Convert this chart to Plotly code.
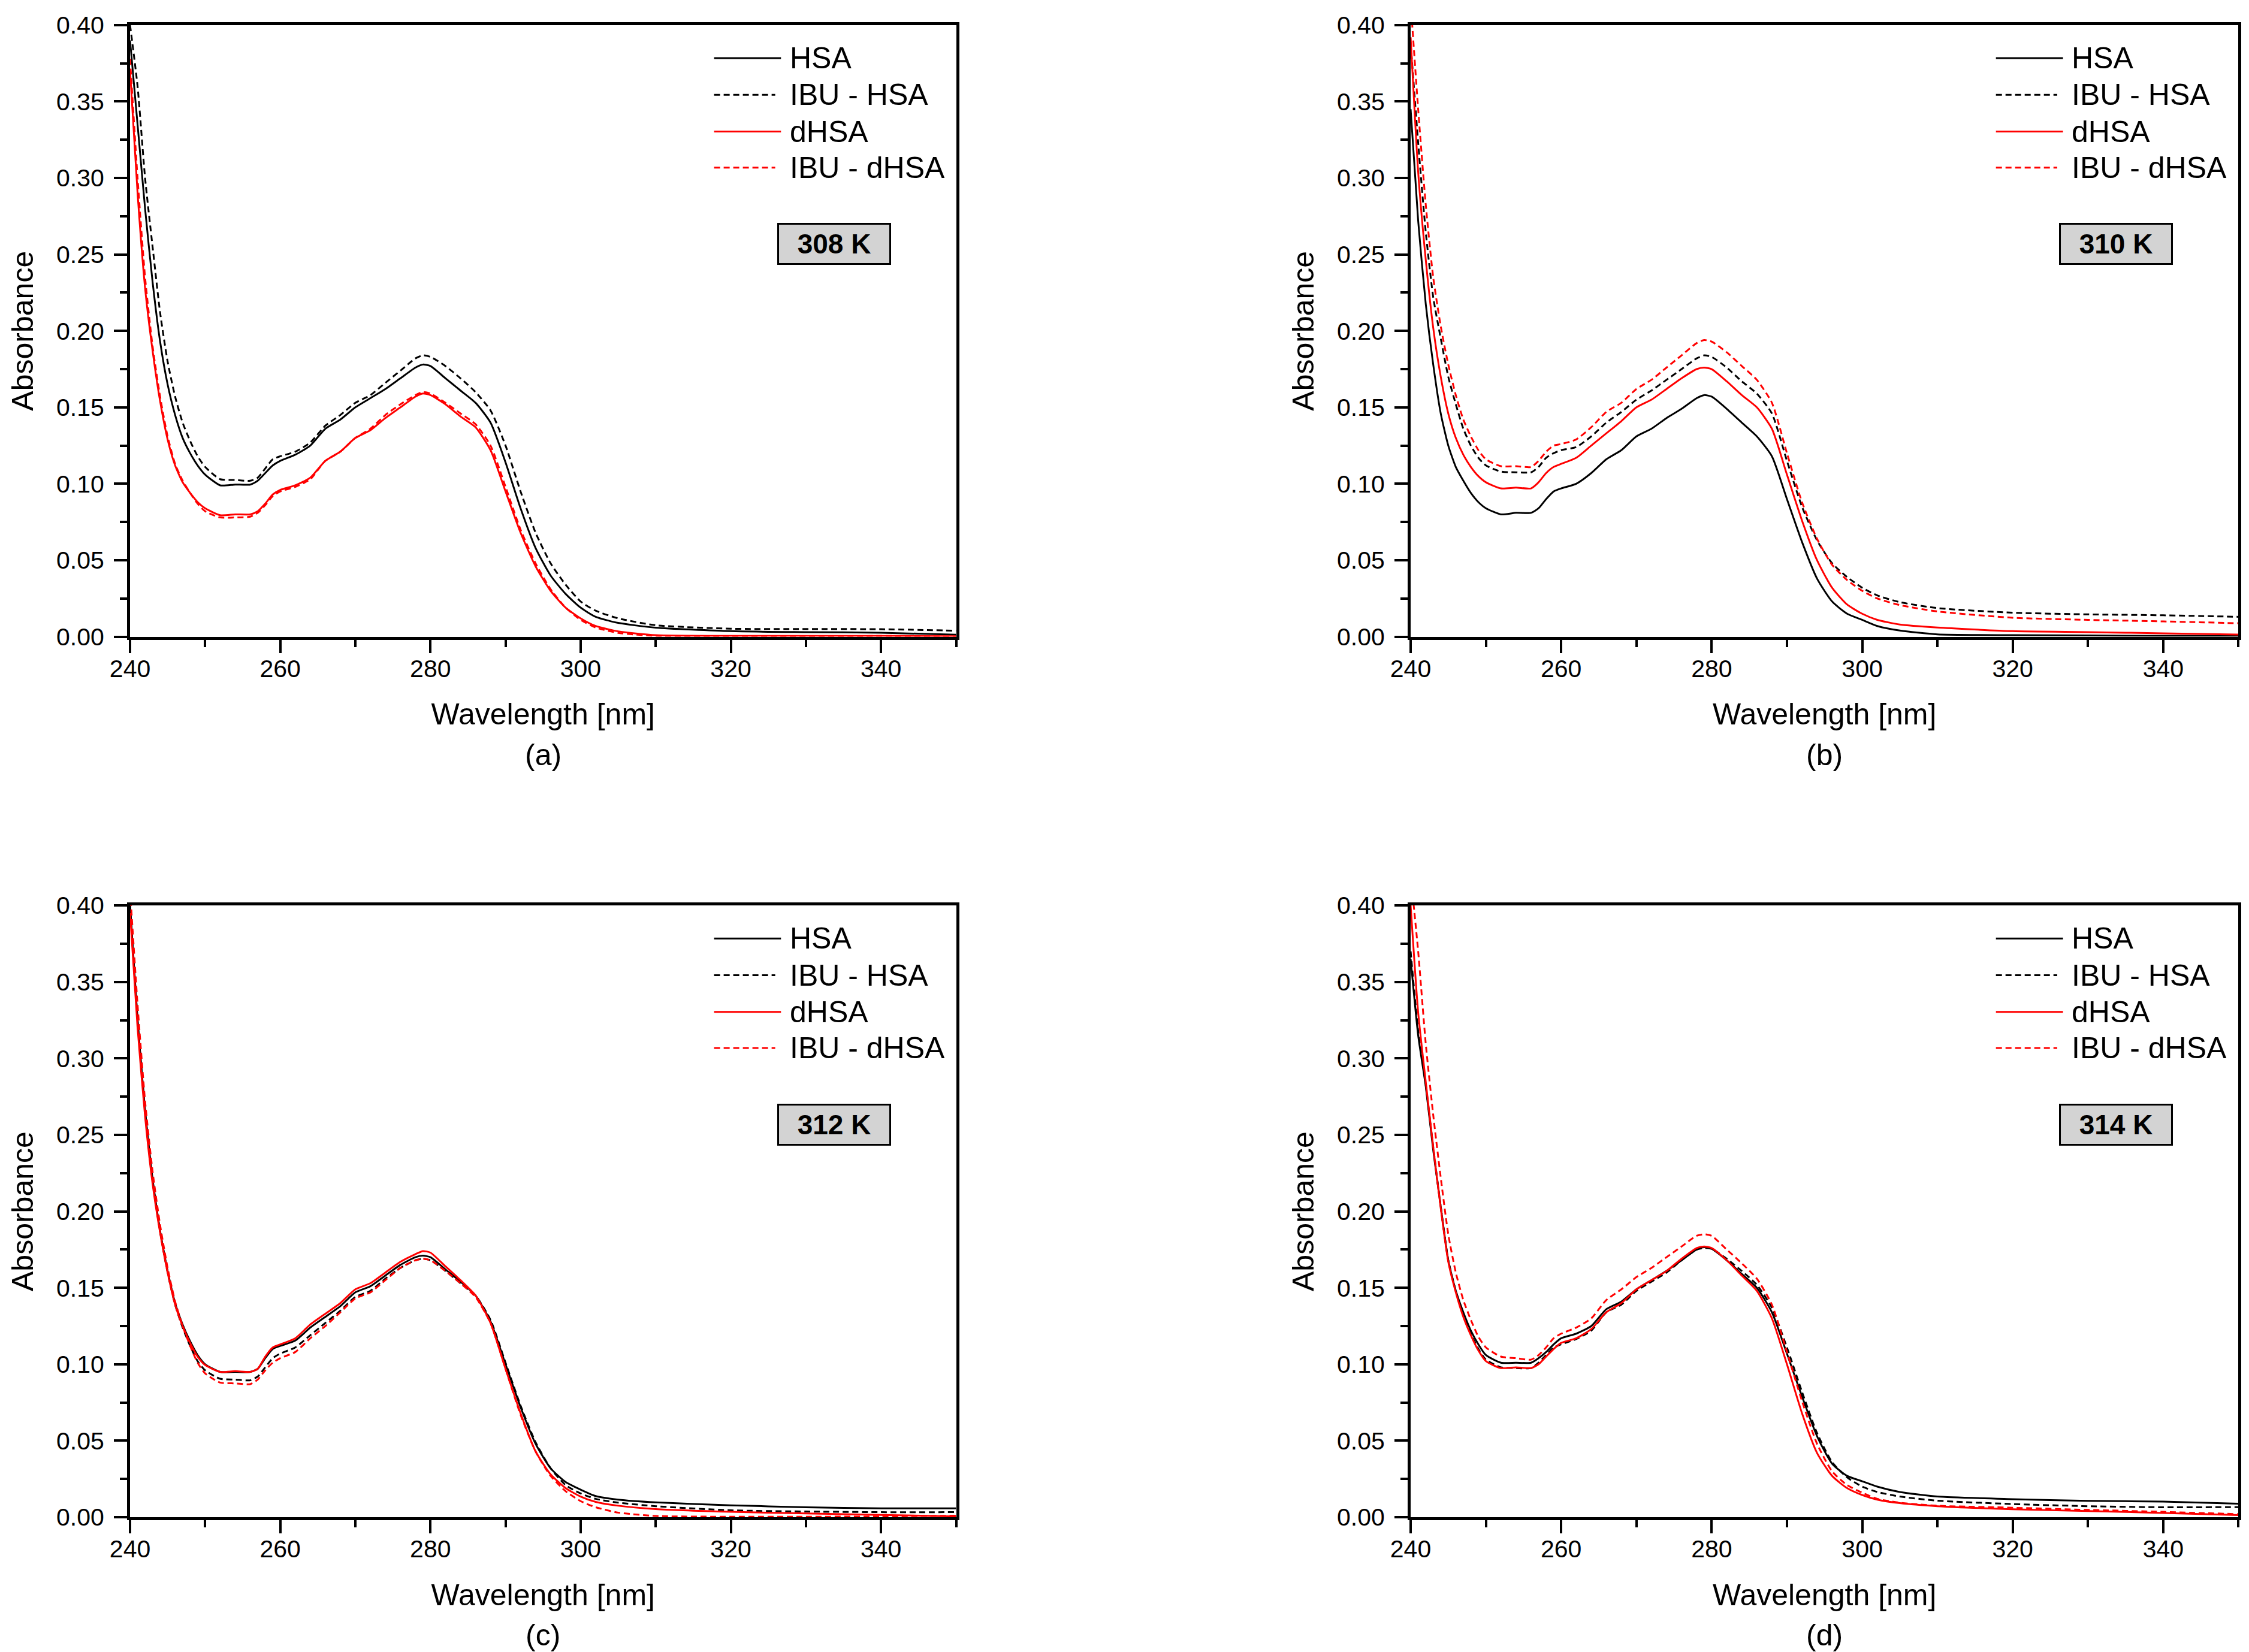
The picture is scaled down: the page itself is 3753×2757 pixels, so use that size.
import plotly.graph_objects as go

FONT = "Liberation Sans, Arial, sans-serif"

# wavelength grid (nm)
wavelength = [240, 241, 242, 243, 244, 245, 246, 247, 248, 249, 250, 252, 254, 256, 257, 258, 259, 260,
              262, 264, 266, 268, 270, 272, 274, 276, 278, 279, 280, 282, 284, 286, 288, 290, 292, 294,
              296, 298, 300, 302, 305, 310, 320, 330, 340, 350]

# (a) 308 K
hsa_308 = [0.39, 0.335, 0.28, 0.232, 0.193, 0.165, 0.145, 0.13, 0.12, 0.112, 0.106, 0.099, 0.0995, 0.0995,
           0.102, 0.107, 0.112, 0.115, 0.119, 0.125, 0.136, 0.142, 0.150, 0.156, 0.162, 0.169, 0.176, 0.178,
           0.177, 0.169, 0.161, 0.153, 0.140, 0.114, 0.084, 0.058, 0.040, 0.028, 0.019, 0.013, 0.009, 0.0059,
           0.0036, 0.003, 0.0026, 0.0013]
ibu_hsa_308 = [0.40, 0.36, 0.30, 0.255, 0.212, 0.18, 0.157, 0.14, 0.128, 0.118, 0.111, 0.103, 0.1025, 0.102,
               0.104, 0.11, 0.116, 0.118, 0.121, 0.127, 0.138, 0.145, 0.153, 0.158, 0.166, 0.174, 0.182, 0.184,
               0.183, 0.177, 0.169, 0.160, 0.148, 0.125, 0.095, 0.068, 0.048, 0.034, 0.023, 0.017, 0.012, 0.0075,
               0.0052, 0.005, 0.0049, 0.0039]
dhsa_308 = [0.37, 0.29, 0.228, 0.187, 0.154, 0.129, 0.112, 0.101, 0.094, 0.088, 0.084, 0.0795, 0.080, 0.080,
            0.082, 0.087, 0.093, 0.096, 0.099, 0.104, 0.115, 0.121, 0.130, 0.135, 0.143, 0.150, 0.157, 0.159,
            0.158, 0.152, 0.144, 0.137, 0.122, 0.095, 0.068, 0.046, 0.030, 0.019, 0.012, 0.007, 0.0035, 0.001,
            0.0005, 0.0005, 0.0005, 0.0003]
ibu_dhsa_308 = [0.378, 0.30, 0.235, 0.19, 0.157, 0.131, 0.113, 0.102, 0.094, 0.087, 0.082, 0.078, 0.078, 0.0785,
                0.081, 0.086, 0.092, 0.095, 0.098, 0.103, 0.115, 0.121, 0.130, 0.136, 0.145, 0.152, 0.158, 0.160,
                0.159, 0.153, 0.146, 0.139, 0.125, 0.098, 0.070, 0.048, 0.031, 0.019, 0.011, 0.006, 0.0025, 0.0005,
                0.0, 0.0, 0.0005, 0.0]

# (b) 310 K
hsa_310 = [0.345, 0.272, 0.218, 0.178, 0.146, 0.125, 0.111, 0.102, 0.094, 0.088, 0.084, 0.080, 0.081, 0.081,
           0.084, 0.09, 0.095, 0.097, 0.100, 0.107, 0.116, 0.122, 0.131, 0.136, 0.143, 0.149, 0.156, 0.158,
           0.157, 0.149, 0.140, 0.131, 0.118, 0.090, 0.062, 0.038, 0.023, 0.015, 0.011, 0.007, 0.004, 0.0015,
           0.001, 0.0008, 0.0005, 0.0005]
ibu_hsa_310 = [0.388, 0.323, 0.265, 0.222, 0.195, 0.17, 0.152, 0.136, 0.125, 0.117, 0.112, 0.108, 0.1075, 0.1075,
               0.111, 0.117, 0.12, 0.122, 0.124, 0.131, 0.140, 0.147, 0.155, 0.161, 0.168, 0.175, 0.182, 0.184,
               0.183, 0.176, 0.167, 0.159, 0.146, 0.115, 0.085, 0.063, 0.048, 0.039, 0.032, 0.027, 0.0226, 0.0187,
               0.0157, 0.0146, 0.014, 0.013]
dhsa_310 = [0.392, 0.304, 0.247, 0.202, 0.17, 0.146, 0.13, 0.119, 0.111, 0.105, 0.101, 0.097, 0.0975, 0.097,
            0.101, 0.107, 0.111, 0.113, 0.117, 0.125, 0.133, 0.141, 0.15, 0.155, 0.162, 0.169, 0.175, 0.176,
            0.175, 0.167, 0.158, 0.150, 0.136, 0.106, 0.076, 0.050, 0.032, 0.021, 0.015, 0.011, 0.008, 0.006,
            0.0036, 0.003, 0.0022, 0.0014]
ibu_dhsa_310 = [0.415, 0.345, 0.283, 0.235, 0.203, 0.178, 0.158, 0.142, 0.131, 0.122, 0.116, 0.1115, 0.1115, 0.111,
                0.115, 0.121, 0.125, 0.126, 0.129, 0.137, 0.147, 0.153, 0.162, 0.168, 0.176, 0.184, 0.192, 0.194,
                0.193, 0.186, 0.177, 0.168, 0.153, 0.120, 0.088, 0.064, 0.047, 0.037, 0.030, 0.025, 0.0207, 0.0165,
                0.0124, 0.011, 0.010, 0.0088]

# (c) 312 K
hsa_312 = [0.40, 0.325, 0.265, 0.22, 0.187, 0.161, 0.14, 0.126, 0.115, 0.106, 0.10, 0.095, 0.095, 0.095,
           0.097, 0.104, 0.11, 0.112, 0.1155, 0.124, 0.131, 0.138, 0.147, 0.151, 0.158, 0.165, 0.170, 0.171,
           0.170, 0.162, 0.154, 0.145, 0.128, 0.100, 0.072, 0.048, 0.032, 0.023, 0.018, 0.0138, 0.0115, 0.0097,
           0.0078, 0.0065, 0.0058, 0.0058]
ibu_hsa_312 = [0.40, 0.325, 0.266, 0.221, 0.187, 0.16, 0.139, 0.124, 0.112, 0.102, 0.096, 0.0905, 0.090, 0.0895,
               0.092, 0.098, 0.104, 0.107, 0.111, 0.119, 0.127, 0.135, 0.144, 0.148, 0.156, 0.163, 0.168, 0.169,
               0.168, 0.161, 0.153, 0.145, 0.129, 0.101, 0.073, 0.049, 0.032, 0.021, 0.0155, 0.012, 0.0095, 0.0072,
               0.0045, 0.0037, 0.0033, 0.0033]
dhsa_312 = [0.395, 0.32, 0.262, 0.218, 0.186, 0.16, 0.139, 0.125, 0.114, 0.105, 0.0995, 0.095, 0.0955, 0.095,
            0.097, 0.105, 0.111, 0.113, 0.117, 0.126, 0.133, 0.140, 0.149, 0.153, 0.160, 0.167, 0.172, 0.174,
            0.173, 0.164, 0.155, 0.145, 0.127, 0.097, 0.068, 0.043, 0.028, 0.019, 0.0135, 0.010, 0.0075, 0.0053,
            0.0035, 0.0025, 0.0015, 0.0005]
ibu_dhsa_312 = [0.41, 0.335, 0.272, 0.226, 0.191, 0.163, 0.141, 0.125, 0.112, 0.101, 0.094, 0.088, 0.0875, 0.087,
                0.09, 0.096, 0.101, 0.104, 0.108, 0.117, 0.125, 0.134, 0.143, 0.147, 0.155, 0.163, 0.168, 0.169,
                0.168, 0.161, 0.153, 0.144, 0.127, 0.097, 0.067, 0.043, 0.027, 0.017, 0.0105, 0.0065, 0.003, 0.0008,
                0.0003, 0.0003, 0.0005, 0.001]

# (d) 314 K
hsa_314 = [0.365, 0.315, 0.282, 0.24, 0.203, 0.168, 0.148, 0.134, 0.122, 0.113, 0.106, 0.101, 0.101, 0.101,
           0.104, 0.108, 0.113, 0.117, 0.120, 0.125, 0.136, 0.141, 0.149, 0.155, 0.161, 0.168, 0.175, 0.1765,
           0.1755, 0.168, 0.159, 0.150, 0.134, 0.107, 0.079, 0.053, 0.035, 0.027, 0.0235, 0.020, 0.0165, 0.0135,
           0.0118, 0.0107, 0.0102, 0.0088]
ibu_hsa_314 = [0.37, 0.318, 0.283, 0.242, 0.203, 0.168, 0.148, 0.132, 0.12, 0.11, 0.103, 0.098, 0.0975, 0.0975,
               0.101, 0.106, 0.111, 0.113, 0.1165, 0.122, 0.134, 0.139, 0.148, 0.154, 0.160, 0.168, 0.175, 0.176,
               0.1755, 0.169, 0.161, 0.152, 0.137, 0.111, 0.082, 0.055, 0.036, 0.026, 0.020, 0.0165, 0.0135, 0.0108,
               0.0086, 0.0072, 0.0065, 0.0066]
dhsa_314 = [0.40, 0.33, 0.285, 0.242, 0.202, 0.167, 0.147, 0.131, 0.119, 0.109, 0.102, 0.0975, 0.098, 0.0975,
            0.10, 0.105, 0.11, 0.114, 0.117, 0.123, 0.134, 0.140, 0.149, 0.155, 0.161, 0.169, 0.176, 0.177,
            0.176, 0.168, 0.158, 0.148, 0.130, 0.100, 0.068, 0.042, 0.027, 0.019, 0.0145, 0.0115, 0.0092, 0.0072,
            0.0052, 0.004, 0.0028, 0.0014]
ibu_dhsa_314 = [0.42, 0.37, 0.31, 0.263, 0.222, 0.185, 0.16, 0.142, 0.129, 0.118, 0.111, 0.105, 0.104, 0.103,
                0.106, 0.111, 0.117, 0.12, 0.124, 0.13, 0.142, 0.149, 0.157, 0.163, 0.170, 0.177, 0.184, 0.185,
                0.184, 0.175, 0.166, 0.156, 0.139, 0.108, 0.076, 0.048, 0.030, 0.021, 0.016, 0.012, 0.0095, 0.0075,
                0.0062, 0.0048, 0.0035, 0.002]

series_names = ["HSA", "IBU - HSA", "dHSA", "IBU - dHSA"]
temperatures = ["308 K", "310 K", "312 K", "314 K"]
panel_tags = ["(a)", "(b)", "(c)", "(d)"]
panels = [
    [hsa_308, ibu_hsa_308, dhsa_308, ibu_dhsa_308],
    [hsa_310, ibu_hsa_310, dhsa_310, ibu_dhsa_310],
    [hsa_312, ibu_hsa_312, dhsa_312, ibu_dhsa_312],
    [hsa_314, ibu_hsa_314, dhsa_314, ibu_dhsa_314],
]

colors = ["black", "black", "#ff0000", "#ff0000"]
dashes = ["solid", "10px,6px", "solid", "10px,6px"]

x_domains = [[0.0557, 0.4230], [0.6251, 0.9932], [0.0557, 0.4230], [0.6251, 0.9932]]
y_domains = [[0.6175, 0.9877], [0.6175, 0.9877], [0.0845, 0.4548], [0.0845, 0.4548]]

fig = go.Figure()
layout = dict(
    width=3753, height=2757,
    margin=dict(l=0, r=0, t=0, b=0),
    template="none",
    paper_bgcolor="white", plot_bgcolor="white",
    showlegend=False,
    font=dict(family=FONT, color="black"),
)

axis_style = dict(
    showline=True, linewidth=5, linecolor="black", mirror=True,
    ticks="outside", ticklen=22, tickwidth=4, tickcolor="black",
    showgrid=False, zeroline=False, automargin=False,
    tickfont=dict(family=FONT, size=41, color="black"),
)

annotations = []
shapes = []
legend_rows = [0.946, 0.886, 0.826, 0.767]

for i, series in enumerate(panels):
    n = "" if i == 0 else str(i + 1)
    xa, ya = "x" + n, "y" + n
    for name, values, color, dash in zip(series_names, series, colors, dashes):
        fig.add_trace(go.Scatter(
            x=wavelength, y=values, name=name, mode="lines",
            line=dict(color=color, width=3, dash=dash, shape="spline", smoothing=0.6),
            xaxis=xa, yaxis=ya,
        ))

    layout["xaxis" + n] = dict(
        axis_style, domain=x_domains[i], anchor=ya, range=[240, 350], dtick=20, tick0=240,
        ticklabelstandoff=-9,
        minor=dict(ticks="outside", ticklen=12, tickwidth=4, tickcolor="black", dtick=10, showgrid=False),
        title=dict(text="Wavelength [nm]", standoff=38, font=dict(family=FONT, size=50, color="black")),
    )
    layout["yaxis" + n] = dict(
        axis_style, domain=y_domains[i], anchor=xa, range=[0, 0.40], dtick=0.05, tickformat=".2f",
        ticklabelstandoff=8,
        minor=dict(ticks="outside", ticklen=12, tickwidth=4, tickcolor="black", dtick=0.025, showgrid=False),
        title=dict(text="Absorbance", standoff=24, font=dict(family=FONT, size=50, color="black")),
    )

    # legend block drawn inside each panel
    for row, color, dash, name in zip(legend_rows, colors, dashes, series_names):
        shapes.append(dict(
            type="line", xref=xa + " domain", yref=ya + " domain",
            x0=0.707, x1=0.788 if dash == "solid" else 0.781, y0=row, y1=row,
            line=dict(color=color, width=3, dash=dash),
        ))
        annotations.append(dict(
            text=name, xref=xa + " domain", yref=ya + " domain", x=0.797, y=row,
            xanchor="left", yanchor="middle", showarrow=False,
            font=dict(family=FONT, size=50, color="black"),
        ))

    # temperature box
    annotations.append(dict(
        text="<b>" + temperatures[i] + "</b>", xref=xa + " domain", yref=ya + " domain",
        x=0.852, y=0.642, xanchor="center", yanchor="middle", showarrow=False,
        width=184, height=64, borderpad=0, bgcolor="#d3d3d3", bordercolor="black", borderwidth=3,
        font=dict(family=FONT, size=46, color="black"),
    ))

    # panel tag under the x title
    annotations.append(dict(
        text=panel_tags[i], xref="paper", yref="paper",
        x=sum(x_domains[i]) / 2, y=y_domains[i][0] - 0.0715,
        xanchor="center", yanchor="middle", showarrow=False,
        font=dict(family=FONT, size=50, color="black"),
    ))

layout["annotations"] = annotations
layout["shapes"] = shapes
fig.update_layout(**layout)

fig.write_html("out.html")
